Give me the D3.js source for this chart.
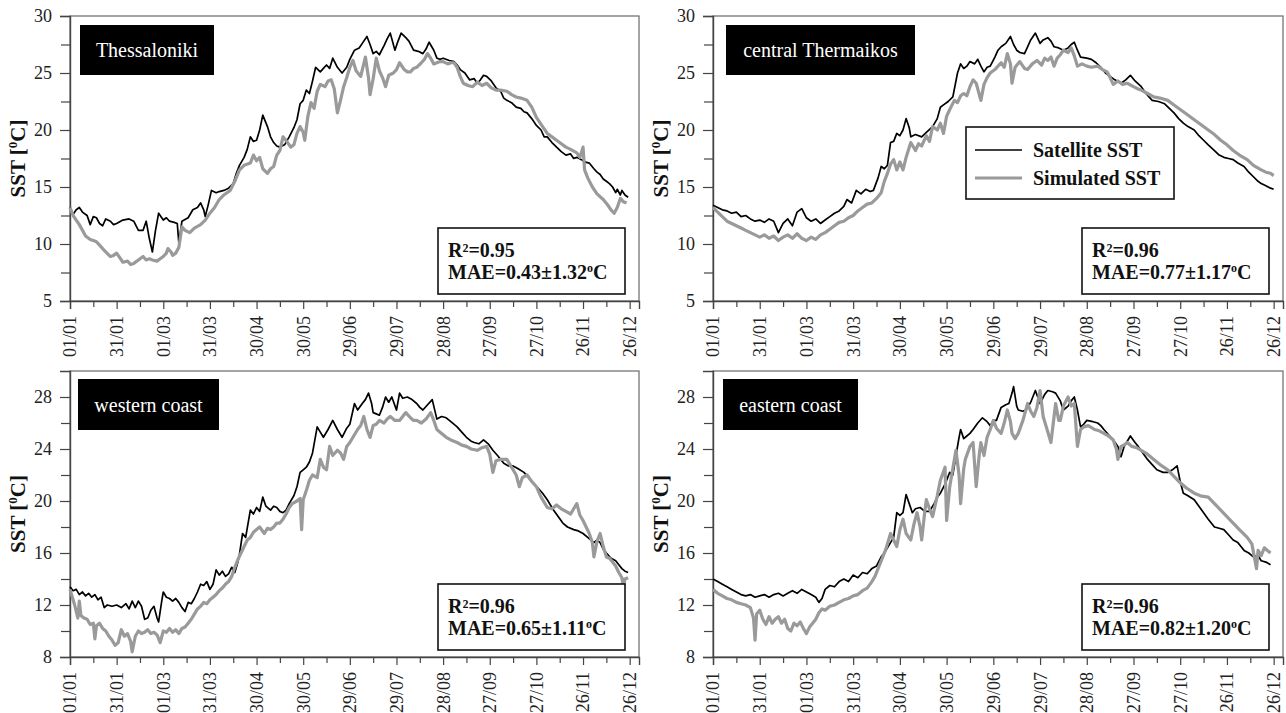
<!DOCTYPE html>
<html><head><meta charset="utf-8">
<script src="https://cdn.jsdelivr.net/npm/d3@7/dist/d3.min.js"></script>
<style>
body{margin:0;background:#fff}
svg{display:block}
text{font-family:"Liberation Serif","Times New Roman",serif}
</style>
</head><body>
<svg id="chart" width="1286" height="713"></svg>
<script>
// ---------- data ----------
const dateTickDays = [0,30,60,90,120,150,180,210,240,270,300,330,360];
const dateTickLabels = ["01/01","31/01","01/03","31/03","30/04","30/05","29/06","29/07","28/08","27/09","27/10","26/11","26/12"];
const dateMinorDays = [15,45,75,105,135,165,195,225,255,285,315,345];

const topYTicks = [5,10,15,20,25,30];
const topYMinor = [7.5,12.5,17.5,22.5,27.5];
const bottomYTicks = [8,12,16,20,24,28];
const bottomYMinor = [10,14,18,22,26];

const regionNames = ["Thessaloniki","central Thermaikos","western coast","eastern coast"];
const r2Values = ["0.95","0.96","0.96","0.96"];
const maeValues = ["0.43±1.32","0.77±1.17","0.65±1.11","0.82±1.20"];
const seriesNames = ["Satellite SST","Simulated SST"];

// [day of year, SST °C]
const thessalonikiSatellite = [[0,13.2],[2,12.6],[4,13.0],[6,13.2],[8,12.8],[11,12.5],[13,11.7],[15,12.4],[17,12.3],[19,11.8],[21,11.6],[23,12.2],[26,12.0],[28,11.7],[30,11.8],[34,12.1],[38,12.2],[41,12.0],[44,11.2],[47,11.2],[49,12.0],[51,10.5],[53,9.3],[55,11.2],[57,12.7],[60,12.1],[62,12.3],[64,12.0],[67,11.9],[69,11.8],[70,10.1],[72,12.0],[76,12.3],[79,13.0],[82,13.2],[84,13.6],[86,13.0],[87,12.4],[89,13.5],[91,14.7],[94,14.5],[96,14.6],[99,14.7],[102,14.9],[105,15.3],[107,16.2],[109,16.9],[112,17.6],[114,18.3],[116,19.4],[118,19.0],[120,19.1],[122,20.0],[124,21.3],[127,20.3],[129,19.4],[131,18.9],[133,18.6],[135,18.5],[138,18.7],[141,19.4],[144,20.2],[146,20.9],[148,22.3],[150,22.6],[152,23.5],[154,23.2],[156,24.3],[158,25.5],[161,25.1],[163,25.4],[165,25.7],[167,25.4],[169,26.3],[172,25.5],[175,25.0],[178,25.5],[180,26.2],[183,27.0],[186,27.2],[188,27.6],[191,28.2],[193,27.5],[195,26.7],[197,26.9],[199,26.6],[202,27.4],[204,28.0],[206,28.5],[209,27.0],[211,27.8],[213,28.5],[216,28.1],[218,27.8],[221,27.0],[224,26.9],[227,26.7],[229,27.1],[231,27.7],[234,27.0],[236,26.3],[238,26.2],[240,26.3],[244,26.1],[247,26.0],[249,25.7],[251,25.3],[254,25.0],[257,24.4],[260,24.5],[262,24.1],[264,24.4],[266,24.8],[268,24.7],[271,24.3],[274,23.7],[277,23.4],[279,22.8],[281,22.6],[284,22.4],[287,22.0],[290,21.9],[292,21.6],[294,21.5],[297,21.0],[300,20.4],[303,20.0],[305,19.4],[307,19.4],[310,18.9],[313,18.5],[316,18.1],[319,17.8],[322,17.9],[324,17.5],[326,17.6],[329,17.4],[331,17.2],[334,17.1],[337,16.6],[339,16.3],[341,16.1],[343,15.7],[345,15.5],[347,15.3],[349,15.0],[351,14.5],[352,14.8],[354,14.3],[355,14.7],[357,14.3],[359,14.1]];
const thessalonikiSimulated = [[0,13.2],[2,12.5],[4,12.1],[6,11.7],[8,11.2],[10,10.7],[13,10.4],[15,10.3],[17,10.2],[19,9.9],[21,9.6],[23,9.3],[26,8.9],[28,9.0],[30,9.2],[32,8.8],[34,8.4],[37,8.5],[39,8.2],[41,8.3],[44,8.6],[47,8.9],[49,8.6],[51,8.7],[53,8.6],[56,8.5],[58,8.7],[60,8.9],[62,9.2],[63,9.6],[65,9.3],[66,9.0],[68,9.2],[70,9.7],[72,11.5],[74,11.2],[77,11.0],[80,11.4],[84,11.7],[87,12.1],[90,12.7],[93,13.2],[96,13.9],[99,14.3],[103,14.7],[106,15.5],[109,16.5],[112,16.9],[116,17.1],[118,17.8],[120,17.3],[122,17.6],[124,16.6],[127,16.2],[129,16.6],[131,16.8],[133,17.8],[135,18.2],[137,19.4],[140,18.9],[142,18.5],[144,18.7],[146,19.7],[148,20.3],[150,19.8],[151,19.1],[153,21.2],[155,22.4],[157,21.9],[159,23.4],[161,24.0],[164,23.8],[166,24.3],[168,24.4],[170,23.6],[172,21.5],[174,22.6],[176,23.8],[178,24.6],[180,25.5],[182,26.1],[184,25.2],[187,24.7],[190,26.4],[192,24.6],[193,23.1],[195,24.5],[197,26.3],[199,25.2],[201,24.6],[203,23.8],[205,24.8],[208,25.0],[210,25.3],[212,25.9],[215,25.3],[217,25.1],[219,25.1],[221,25.4],[223,25.5],[226,25.9],[228,26.2],[230,26.7],[232,26.3],[234,25.8],[236,25.9],[238,26.0],[240,26.0],[243,25.8],[245,25.9],[247,25.9],[249,25.5],[251,24.7],[253,24.1],[256,23.9],[259,23.8],[262,24.2],[265,23.9],[268,24.1],[271,23.7],[274,23.5],[277,23.5],[281,23.4],[284,23.1],[287,22.9],[290,22.8],[294,22.6],[297,22.0],[300,21.1],[303,20.5],[307,19.7],[310,19.4],[313,19.1],[316,18.8],[319,18.5],[322,18.3],[326,18.0],[328,17.6],[330,18.5],[331,16.5],[333,15.8],[336,15.0],[339,14.4],[343,13.9],[346,13.4],[348,13.0],[350,12.7],[352,13.2],[354,14.0],[356,13.7],[358,13.6]];

const centralSatellite = [[0,13.4],[3,13.2],[6,13.0],[9,12.9],[12,12.7],[15,12.8],[18,12.4],[21,12.5],[24,12.2],[27,12.0],[30,12.1],[33,11.9],[36,12.2],[39,12.0],[42,11.0],[45,11.8],[48,12.2],[51,11.6],[54,12.8],[57,13.1],[60,12.3],[63,12.0],[66,12.2],[69,11.8],[72,12.1],[75,12.4],[78,12.7],[81,12.9],[84,13.3],[86,13.9],[89,13.6],[92,14.7],[95,14.4],[98,14.8],[101,14.6],[103,14.7],[106,15.8],[108,16.8],[110,16.6],[112,16.9],[114,18.9],[116,19.0],[118,19.7],[120,19.5],[122,20.0],[124,21.0],[126,20.2],[127,19.4],[130,19.6],[134,19.4],[137,19.8],[141,20.3],[144,21.0],[146,22.0],[148,22.2],[151,22.5],[154,22.9],[157,25.0],[159,25.8],[161,25.4],[163,25.6],[165,26.0],[168,25.8],[170,26.2],[172,25.6],[174,25.1],[176,25.5],[178,25.6],[181,26.4],[183,27.0],[185,27.3],[188,27.6],[191,28.2],[193,27.5],[195,27.0],[197,26.8],[200,26.7],[202,27.3],[204,27.9],[207,28.5],[210,27.6],[212,27.9],[215,28.1],[217,27.8],[219,27.3],[222,27.2],[225,27.0],[228,27.2],[230,27.5],[232,27.7],[234,27.0],[236,26.4],[240,26.3],[243,26.2],[246,25.9],[249,25.5],[252,25.0],[255,24.7],[258,24.4],[262,24.1],[265,24.4],[268,24.8],[271,24.3],[275,23.8],[278,23.2],[282,22.6],[286,22.5],[290,22.3],[293,21.9],[296,21.5],[299,21.0],[302,20.6],[305,20.3],[309,20.0],[312,19.5],[315,19.1],[318,18.7],[322,18.2],[325,17.8],[328,17.6],[331,17.5],[334,17.4],[337,17.1],[341,16.8],[344,16.3],[347,15.9],[350,15.5],[352,15.3],[355,15.1],[358,14.9],[360,14.8]];
const centralSimulated = [[0,13.2],[3,12.8],[6,12.4],[9,12.0],[12,11.8],[15,11.6],[18,11.4],[21,11.2],[24,11.0],[27,10.8],[30,10.6],[33,10.8],[36,10.5],[39,10.7],[42,10.3],[45,10.6],[48,10.8],[51,10.5],[54,10.9],[57,10.5],[60,10.3],[63,10.6],[66,10.4],[69,10.8],[72,11.0],[75,11.3],[78,11.6],[81,11.9],[84,12.0],[87,12.3],[90,12.5],[93,12.9],[96,13.2],[99,13.5],[102,13.6],[105,14.0],[108,14.5],[110,15.5],[112,16.2],[114,17.0],[116,17.4],[118,16.5],[120,17.2],[122,16.5],[124,17.6],[127,18.9],[130,18.2],[132,18.8],[134,18.6],[137,19.5],[139,19.0],[141,20.3],[144,20.0],[146,20.6],[148,19.7],[150,21.2],[152,21.8],[155,22.6],[157,22.4],[159,23.0],[161,23.2],[163,23.0],[165,23.8],[167,24.4],[169,24.1],[172,22.6],[174,24.0],[176,24.6],[178,25.0],[181,25.3],[183,25.6],[185,25.9],[187,25.5],[189,26.7],[191,25.8],[192,24.1],[194,25.5],[197,26.0],[200,25.4],[202,25.3],[205,25.8],[208,26.1],[211,25.7],[213,26.3],[215,26.1],[217,26.4],[219,25.6],[221,26.3],[223,26.6],[225,27.0],[228,26.8],[230,27.2],[232,26.5],[234,25.6],[237,25.8],[240,25.6],[243,25.5],[247,25.6],[250,25.3],[253,25.1],[255,24.6],[257,24.0],[260,24.3],[263,24.0],[266,24.1],[270,23.8],[273,23.6],[275,23.5],[279,23.2],[283,22.9],[287,22.8],[292,22.6],[296,22.2],[300,21.8],[304,21.4],[309,20.9],[313,20.5],[318,20.0],[322,19.6],[326,19.1],[330,18.7],[334,18.2],[338,17.8],[343,17.4],[347,16.9],[352,16.5],[355,16.3],[358,16.2],[360,16.0]];

const westernSatellite = [[0,13.4],[2,13.1],[4,13.2],[6,12.8],[8,13.0],[10,12.7],[12,12.9],[14,12.6],[16,12.8],[18,12.4],[20,12.6],[22,11.8],[24,12.0],[27,11.9],[30,12.0],[33,11.8],[36,12.1],[38,11.7],[40,12.3],[42,11.8],[44,12.3],[46,11.9],[48,10.9],[50,11.0],[52,11.6],[54,11.9],[56,11.0],[57,10.7],[59,12.3],[60,13.0],[62,12.6],[64,12.5],[66,12.3],[68,12.5],[70,12.2],[72,11.8],[74,11.5],[76,12.2],[78,12.1],[80,12.5],[82,13.0],[84,13.6],[86,13.5],[88,13.8],[90,13.2],[92,13.6],[94,14.7],[96,14.3],[98,14.6],[100,14.2],[102,14.4],[104,14.9],[106,14.5],[108,15.3],[109,15.9],[111,17.5],[113,17.2],[116,19.3],[118,19.0],[120,19.5],[122,19.2],[124,20.3],[126,19.6],[129,19.3],[131,19.6],[133,19.5],[135,19.2],[137,19.1],[139,19.3],[141,19.8],[144,20.4],[146,21.1],[148,22.2],[150,22.4],[152,22.6],[154,23.0],[156,23.7],[159,25.7],[161,25.3],[163,24.9],[166,25.5],[169,26.2],[172,25.5],[175,24.9],[178,25.6],[180,25.9],[183,27.5],[185,27.0],[188,27.5],[190,27.8],[192,28.3],[194,27.5],[195,26.8],[197,26.7],[199,26.6],[201,27.2],[203,28.0],[205,27.6],[207,28.0],[210,27.0],[212,28.3],[214,27.9],[217,28.0],[220,27.8],[223,27.5],[225,27.2],[227,27.0],[230,27.4],[233,27.8],[236,26.3],[239,26.5],[242,26.4],[245,26.1],[249,25.7],[252,25.3],[255,24.9],[258,24.6],[260,24.5],[263,24.4],[266,24.7],[269,24.4],[272,23.9],[275,23.5],[279,22.9],[282,22.7],[285,22.7],[288,22.5],[292,22.2],[295,21.8],[298,21.4],[301,21.0],[304,20.6],[307,20.1],[311,19.3],[314,18.8],[317,18.3],[320,18.0],[324,17.8],[327,17.7],[330,17.5],[333,17.2],[337,16.8],[339,17.0],[341,16.8],[343,16.3],[345,16.0],[348,15.6],[351,15.4],[353,15.1],[355,14.8],[357,14.6],[359,14.5]];
const westernSimulated = [[0,13.2],[2,12.4],[3,12.0],[5,11.0],[6,12.3],[7,11.2],[9,11.0],[11,10.9],[13,10.5],[15,10.6],[16,9.4],[17,10.4],[19,10.6],[21,10.2],[23,10.0],[25,9.6],[27,9.3],[29,8.9],[31,9.1],[33,10.1],[35,9.6],[37,9.8],[39,9.2],[40,8.4],[42,9.6],[44,10.0],[46,9.8],[48,9.9],[50,10.1],[52,9.8],[54,9.9],[56,9.7],[58,9.1],[60,10.0],[62,9.9],[64,10.2],[66,9.9],[68,10.1],[70,9.8],[72,10.2],[74,10.3],[76,10.6],[78,10.9],[80,11.3],[82,11.7],[84,11.9],[86,12.2],[88,12.1],[90,12.4],[92,12.6],[94,12.8],[96,13.1],[98,13.3],[100,13.6],[102,13.8],[104,14.2],[106,14.9],[108,15.5],[110,16.0],[112,16.5],[114,17.0],[116,17.2],[118,17.6],[120,17.8],[122,18.0],[125,17.5],[127,17.9],[129,17.8],[131,18.0],[133,18.3],[135,18.3],[137,18.6],[139,19.0],[141,19.5],[143,19.8],[146,20.0],[148,20.2],[149,17.8],[150,20.1],[152,20.8],[154,21.6],[156,22.0],[159,21.8],[161,23.2],[163,22.6],[165,22.4],[167,24.2],[169,23.5],[172,23.9],[174,23.7],[176,23.2],[178,24.2],[180,24.5],[182,24.9],[185,25.5],[187,25.8],[189,26.5],[191,25.5],[193,24.9],[195,25.8],[197,25.9],[199,26.2],[202,26.0],[204,26.3],[206,26.5],[209,26.2],[212,26.2],[214,26.5],[216,26.8],[219,26.4],[221,26.2],[223,26.2],[226,26.0],[229,26.3],[232,26.8],[234,26.2],[236,25.5],[239,25.2],[242,24.9],[245,24.7],[249,24.5],[252,24.3],[255,24.2],[258,24.0],[262,23.9],[265,24.1],[268,24.2],[270,23.6],[272,22.2],[274,23.1],[277,23.2],[281,23.2],[283,22.8],[285,22.4],[287,22.0],[289,21.1],[291,21.8],[294,22.0],[297,21.5],[300,21.1],[303,20.3],[307,19.5],[310,19.4],[313,19.7],[316,19.4],[319,19.2],[322,19.0],[324,19.4],[326,19.8],[328,18.9],[330,18.5],[332,18.0],[334,17.5],[336,16.8],[337,15.7],[339,16.9],[341,17.5],[343,16.5],[345,15.7],[347,15.6],[349,15.3],[351,15.0],[353,14.5],[355,14.1],[356,13.3],[357,14.0],[359,14.1]];

const easternSatellite = [[0,14.0],[3,13.8],[6,13.6],[9,13.4],[12,13.2],[15,13.0],[18,12.8],[21,12.7],[24,12.8],[27,12.6],[30,12.7],[33,12.8],[36,12.6],[39,12.8],[42,12.9],[45,12.7],[48,12.9],[51,13.1],[54,12.9],[57,13.2],[60,13.0],[63,12.8],[66,12.6],[68,12.2],[70,12.5],[72,13.2],[75,13.5],[78,13.4],[81,13.8],[84,14.0],[87,13.8],[90,14.3],[93,14.1],[96,14.5],[99,14.4],[102,14.8],[105,15.0],[108,15.7],[110,16.0],[112,16.4],[114,16.8],[116,17.2],[118,19.1],[120,18.9],[122,19.1],[124,20.5],[126,19.8],[128,19.1],[130,19.4],[133,19.5],[136,19.2],[139,19.2],[142,19.8],[144,20.3],[146,20.6],[149,21.3],[152,22.2],[154,22.0],[156,23.5],[158,24.9],[159,25.5],[161,24.8],[163,25.0],[165,25.2],[167,25.5],[170,26.0],[173,26.4],[176,26.1],[178,25.8],[180,26.2],[182,26.2],[185,27.2],[188,27.4],[190,27.5],[192,28.3],[193,28.8],[195,27.3],[196,27.0],[199,26.9],[201,27.0],[204,27.6],[207,28.5],[210,27.5],[213,28.2],[215,28.5],[218,28.4],[220,28.3],[223,27.7],[225,27.0],[228,27.3],[230,27.7],[232,28.0],[234,27.0],[236,25.7],[238,25.9],[240,26.2],[244,26.1],[247,26.0],[249,25.8],[251,25.5],[254,25.1],[257,24.7],[260,24.2],[262,23.4],[264,24.2],[266,24.6],[268,25.0],[271,24.5],[273,24.2],[276,23.7],[279,23.2],[282,22.8],[285,22.4],[289,22.2],[292,22.2],[295,22.4],[298,22.7],[300,21.5],[302,20.6],[305,20.4],[309,20.1],[312,19.6],[315,19.1],[318,18.6],[322,18.0],[325,17.9],[328,17.8],[331,17.4],[334,17.0],[337,16.8],[339,16.5],[341,16.2],[344,16.0],[347,15.7],[350,15.8],[352,15.4],[355,15.3],[358,15.1]];
const easternSimulated = [[0,13.2],[3,12.9],[6,12.7],[9,12.5],[12,12.4],[15,12.2],[18,12.1],[21,12.0],[24,11.8],[26,11.0],[27,9.3],[28,11.3],[30,11.6],[32,10.9],[34,10.5],[36,11.1],[38,10.6],[40,10.9],[42,11.1],[44,10.6],[46,10.9],[48,10.2],[50,10.0],[52,10.6],[54,10.4],[56,10.7],[58,10.2],[60,9.8],[62,10.3],[64,10.6],[66,10.9],[68,11.4],[70,11.7],[72,11.6],[75,11.9],[78,12.0],[81,12.2],[84,12.4],[87,12.5],[90,12.7],[93,12.8],[96,13.1],[99,13.3],[102,13.8],[104,14.2],[106,14.8],[108,15.4],[111,16.3],[114,17.5],[116,17.0],[118,16.5],[120,17.8],[122,18.6],[124,17.5],[127,17.0],[129,18.2],[131,19.1],[133,18.0],[134,17.0],[136,19.2],[137,20.1],[139,19.4],[141,18.8],[144,20.4],[146,21.6],[149,22.6],[150,18.5],[152,21.1],[154,22.5],[156,23.9],[158,22.0],[159,19.8],[161,22.5],[162,23.2],[165,24.2],[167,24.5],[169,21.1],[171,23.6],[172,24.5],[174,23.5],[176,24.9],[178,25.5],[180,26.2],[182,25.6],[185,25.2],[187,26.0],[189,27.0],[191,26.1],[192,25.2],[194,24.8],[196,25.2],[199,26.2],[202,27.5],[204,26.9],[206,26.5],[208,27.2],[210,28.5],[212,26.5],[214,25.7],[217,24.5],[219,26.5],[220,27.5],[222,26.2],[223,26.2],[225,27.3],[228,28.0],[230,27.3],[232,27.5],[234,24.2],[236,25.5],[238,25.7],[241,25.8],[245,25.5],[248,25.4],[251,25.2],[254,25.0],[257,24.7],[259,24.0],[260,23.2],[262,24.2],[264,24.3],[266,24.5],[269,24.2],[272,24.1],[275,23.9],[279,23.6],[283,23.2],[287,22.8],[292,22.4],[296,21.9],[300,21.4],[304,21.0],[309,20.6],[313,20.4],[318,20.3],[322,19.8],[326,19.3],[330,18.8],[334,18.3],[338,17.8],[343,17.2],[346,16.7],[349,14.8],[350,16.2],[352,15.8],[354,16.4],[356,16.2],[358,16.0]];

// ---------- layout ----------
const svg = d3.select("#chart");
const GRAY = "#9a9a9a";
const panels = [
  {i:0, sat:thessalonikiSatellite, sim:thessalonikiSimulated, left:70, right:639, top:16, bottom:301, yDomain:[5,30], yTicks:topYTicks, yMinor:topYMinor, titleBox:[10,9,134,50], legend:false},
  {i:1, sat:centralSatellite, sim:centralSimulated, left:713, right:1283, top:16, bottom:301, yDomain:[5,30], yTicks:topYTicks, yMinor:topYMinor, titleBox:[13,9,189,50], legend:true},
  {i:2, sat:westernSatellite, sim:westernSimulated, left:70, right:639, top:371, bottom:657, yDomain:[8,30], yTicks:bottomYTicks, yMinor:bottomYMinor, titleBox:[8,8,141,51], legend:false},
  {i:3, sat:easternSatellite, sim:easternSimulated, left:713, right:1283, top:371, bottom:657, yDomain:[8,30], yTicks:bottomYTicks, yMinor:bottomYMinor, titleBox:[10,8,135,51], legend:false}
];

panels.forEach(p => {
  const g = svg.append("g");
  const x = d3.scaleLinear().domain([0,366]).range([p.left,p.right]);
  const y = d3.scaleLinear().domain(p.yDomain).range([p.bottom,p.top]);

  // frame
  g.append("rect").attr("x",p.left).attr("y",p.top).attr("width",p.right-p.left).attr("height",p.bottom-p.top)
    .attr("fill","none").attr("stroke","#6a6a6a").attr("stroke-width",1.2);

  // y axis
  const yAx = g.append("g").attr("transform",`translate(${p.left},0)`)
    .call(d3.axisLeft(y).tickValues(p.yTicks).tickSize(10).tickPadding(8).tickFormat(d3.format("d")));
  yAx.attr("font-family",null);
  yAx.select(".domain").attr("stroke","#444").attr("stroke-width",1.4);
  yAx.selectAll(".tick line").attr("stroke","#444").attr("stroke-width",1.2);
  yAx.selectAll(".tick text").attr("font-size",18).attr("fill","#222");
  const yMin = g.append("g").attr("transform",`translate(${p.left},0)`)
    .call(d3.axisLeft(y).tickValues(p.yMinor).tickSize(9).tickFormat(""));
  yMin.select(".domain").remove();
  yMin.selectAll(".tick line").attr("stroke","#444").attr("stroke-width",1.2);

  // x axis
  const xAx = g.append("g").attr("transform",`translate(0,${p.bottom})`)
    .call(d3.axisBottom(x).tickValues(dateTickDays).tickSize(8).tickFormat((d,k)=>dateTickLabels[k]));
  xAx.attr("font-family",null);
  xAx.select(".domain").attr("stroke","#444").attr("stroke-width",1.4);
  xAx.selectAll(".tick line").attr("stroke","#444").attr("stroke-width",1.2);
  xAx.selectAll(".tick text").attr("font-size",18).attr("fill","#222")
    .attr("text-anchor","end").attr("transform","rotate(-90)").attr("x",-15).attr("y",0).attr("dy","0.33em");
  const xMin = g.append("g").attr("transform",`translate(0,${p.bottom})`)
    .call(d3.axisBottom(x).tickValues(dateMinorDays).tickSize(6).tickFormat(""));
  xMin.select(".domain").remove();
  xMin.selectAll(".tick line").attr("stroke","#444").attr("stroke-width",1.2);

  // y title
  const cy = (p.top+p.bottom)/2;
  const yt = g.append("text").attr("transform",`translate(${p.left-45},${cy}) rotate(-90)`)
    .attr("text-anchor","middle").attr("font-size",21).attr("font-weight","bold").attr("fill","#111");
  yt.append("tspan").text("SST [");
  yt.append("tspan").attr("font-size",13).attr("dy",-8).text("0");
  yt.append("tspan").attr("dy",8).text("C]");

  // lines
  const line = d3.line().x(d=>x(d[0])).y(d=>y(d[1]));
  g.append("path").datum(p.sat).attr("d",line).attr("fill","none").attr("stroke","#000").attr("stroke-width",1.7).attr("stroke-linejoin","round");
  g.append("path").datum(p.sim).attr("d",line).attr("fill","none").attr("stroke",GRAY).attr("stroke-width",3.2).attr("stroke-linejoin","round");

  // title box
  const [tx,ty,tw,th] = p.titleBox;
  g.append("rect").attr("x",p.left+tx).attr("y",p.top+ty).attr("width",tw).attr("height",th).attr("fill","#000");
  g.append("text").attr("x",p.left+tx+tw/2).attr("y",p.top+ty+th/2).attr("dy","0.35em")
    .attr("text-anchor","middle").attr("fill","#fff").attr("font-size",20).text(regionNames[p.i]);

  // stats box
  const bw = 187, bh = 66;
  const bx = p.right-14-bw, by = p.bottom-7-bh;
  g.append("rect").attr("x",bx).attr("y",by).attr("width",bw).attr("height",bh)
    .attr("fill","#fff").attr("stroke","#111").attr("stroke-width",1.6);
  g.append("text").attr("x",bx+10).attr("y",by+29).attr("font-size",20).attr("font-weight","bold").attr("fill","#111")
    .text("R²=" + r2Values[p.i]);
  const mt = g.append("text").attr("x",bx+10).attr("y",by+51).attr("font-size",20).attr("font-weight","bold").attr("fill","#111");
  mt.append("tspan").text("MAE=" + maeValues[p.i]);
  mt.append("tspan").attr("font-size",12).attr("dy",-7).text("o");
  mt.append("tspan").attr("dy",7).text("C");

  // legend
  if (p.legend) {
    const lx = p.left+253, ly = p.top+111, lw = 208, lh = 72;
    g.append("rect").attr("x",lx).attr("y",ly).attr("width",lw).attr("height",lh)
      .attr("fill","#fff").attr("stroke","#111").attr("stroke-width",1.6);
    const cols = ["#000", GRAY], widths = [1.7, 3.2];
    seriesNames.forEach((n,k) => {
      const yy = ly + 23 + k*28;
      g.append("line").attr("x1",lx+9).attr("x2",lx+56).attr("y1",yy).attr("y2",yy)
        .attr("stroke",cols[k]).attr("stroke-width",widths[k]);
      g.append("text").attr("x",lx+67).attr("y",yy).attr("dy","0.35em").attr("font-size",20)
        .attr("font-weight","bold").attr("fill","#111").text(n);
    });
  }
});
</script>
</body></html>
